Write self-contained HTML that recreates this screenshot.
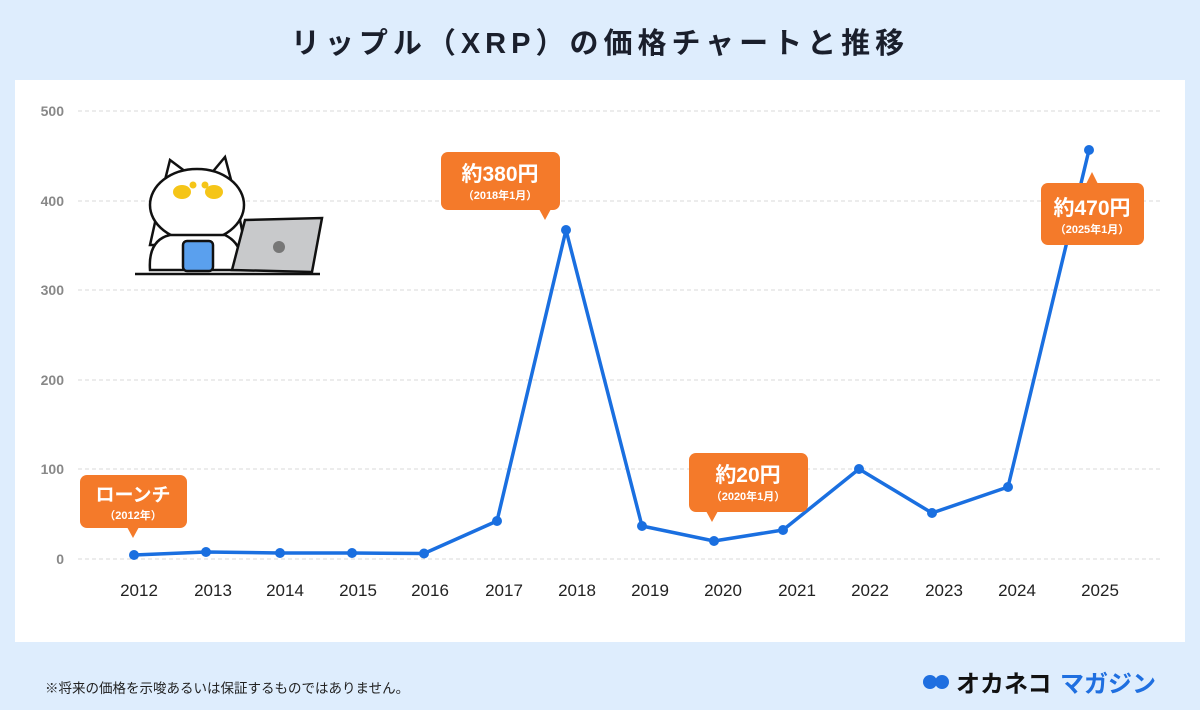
<!DOCTYPE html>
<html><head><meta charset="utf-8"><style>
body{margin:0;width:1200px;height:710px;background:#deedfd;font-family:"Liberation Sans","Noto Sans CJK JP",sans-serif;position:relative;overflow:hidden}
.t{position:absolute;top:20px;left:0;width:1200px;text-align:center;font-size:29px;font-weight:bold;color:#1a1f2c;letter-spacing:5px}
.p{position:absolute;left:15px;top:80px;width:1170px;height:562px;background:#fff}
.n{position:absolute;left:45px;top:677px;font-size:13.5px;color:#222}
</style></head><body>
<div class="t">リップル（XRP）の価格チャートと推移</div>
<div class="p"></div>
<svg width="1200" height="710" style="position:absolute;left:0;top:0" font-family="Liberation Sans, Noto Sans CJK JP, sans-serif">
<g stroke="#d8d8d8" stroke-dasharray="4,3">
<line x1="78" x2="1160" y1="111" y2="111"/><line x1="78" x2="1160" y1="201" y2="201"/><line x1="78" x2="1160" y1="290" y2="290"/><line x1="78" x2="1160" y1="380" y2="380"/><line x1="78" x2="1160" y1="469" y2="469"/><line x1="78" x2="1160" y1="559" y2="559"/>
</g>
<g fill="#888" font-size="14" font-weight="bold" text-anchor="end">
<text x="64" y="116">500</text><text x="64" y="206">400</text><text x="64" y="295">300</text><text x="64" y="385">200</text><text x="64" y="474">100</text><text x="64" y="564">0</text>
</g>
<g fill="#222" font-size="17" text-anchor="middle">
<text x="139" y="596">2012</text><text x="213" y="596">2013</text><text x="285" y="596">2014</text><text x="358" y="596">2015</text><text x="430" y="596">2016</text><text x="504" y="596">2017</text><text x="577" y="596">2018</text><text x="650" y="596">2019</text><text x="723" y="596">2020</text><text x="797" y="596">2021</text><text x="870" y="596">2022</text><text x="944" y="596">2023</text><text x="1017" y="596">2024</text><text x="1100" y="596">2025</text>
</g>
<polyline fill="none" stroke="#1a6fe0" stroke-width="3.5" stroke-linejoin="round" points="134,555 206,552 280,553 352,553 424,553.5 497,521 566,230 642,526 714,541 783,530 859,469 932,513 1008,487 1089,150"/>
<g fill="#1a6fe0">
<circle cx="134" cy="555" r="5"/><circle cx="206" cy="552" r="5"/><circle cx="280" cy="553" r="5"/><circle cx="352" cy="553" r="5"/><circle cx="424" cy="553.5" r="5"/><circle cx="497" cy="521" r="5"/><circle cx="566" cy="230" r="5"/><circle cx="642" cy="526" r="5"/><circle cx="714" cy="541" r="5"/><circle cx="783" cy="530" r="5"/><circle cx="859" cy="469" r="5"/><circle cx="932" cy="513" r="5"/><circle cx="1008" cy="487" r="5"/><circle cx="1089" cy="150" r="5"/>
</g>
<g fill="#f47a2a">
<rect x="80" y="475" width="107" height="53" rx="7"/><polygon points="127,527 139,527 133,538"/>
<rect x="441" y="152" width="119" height="58" rx="7"/><polygon points="539,209 551,209 545,220"/>
<rect x="689" y="453" width="119" height="59" rx="7"/><polygon points="706,511 718,511 712,522"/>
<rect x="1041" y="183" width="103" height="62" rx="7"/><polygon points="1086,184 1098,184 1092,172"/>
</g>
<g fill="#fff" text-anchor="middle" font-weight="bold">
<text x="133" y="501" font-size="19">ローンチ</text><text x="133" y="519" font-size="11">（2012年）</text>
<text x="500" y="181" font-size="21">約380円</text><text x="500" y="199" font-size="11">（2018年1月）</text>
<text x="748" y="482" font-size="21">約20円</text><text x="748" y="500" font-size="11">（2020年1月）</text>
<text x="1092" y="215" font-size="21">約470円</text><text x="1092" y="233" font-size="11">（2025年1月）</text>
</g>
<g stroke="#111" stroke-width="2.5" fill="#fff">
<path d="M150,245 L160,200 L170,160 L190,175 L210,175 L225,157 L235,195 L245,245 Z"/>
<ellipse cx="197" cy="205" rx="47" ry="36"/>
<path d="M150,270 Q148,240 170,235 L225,235 Q245,245 240,270 Z"/>
<rect x="183" y="241" width="30" height="30" rx="4" fill="#5aa0ee"/>
<path d="M232,270 L245,220 L322,218 L312,272 Z" fill="#c8c9cb"/>
<line x1="135" y1="274" x2="320" y2="274"/>
</g>
<g fill="#f5c518"><ellipse cx="182" cy="192" rx="9" ry="7"/><ellipse cx="214" cy="192" rx="9" ry="7"/><circle cx="193" cy="185" r="3.5"/><circle cx="205" cy="185" r="3.5"/></g>
<circle cx="279" cy="247" r="6" fill="#777"/>
<g fill="#1f6fe0"><circle cx="930" cy="682" r="7"/><circle cx="942" cy="682" r="7"/></g>
<text x="956" y="692" font-size="24" font-weight="bold" fill="#111">オカネコ</text>
<text x="1060" y="692" font-size="24" font-weight="bold" fill="#1f6fe0">マガジン</text>
</svg>
<div class="n">※将来の価格を示唆あるいは保証するものではありません。</div>
</body></html>
